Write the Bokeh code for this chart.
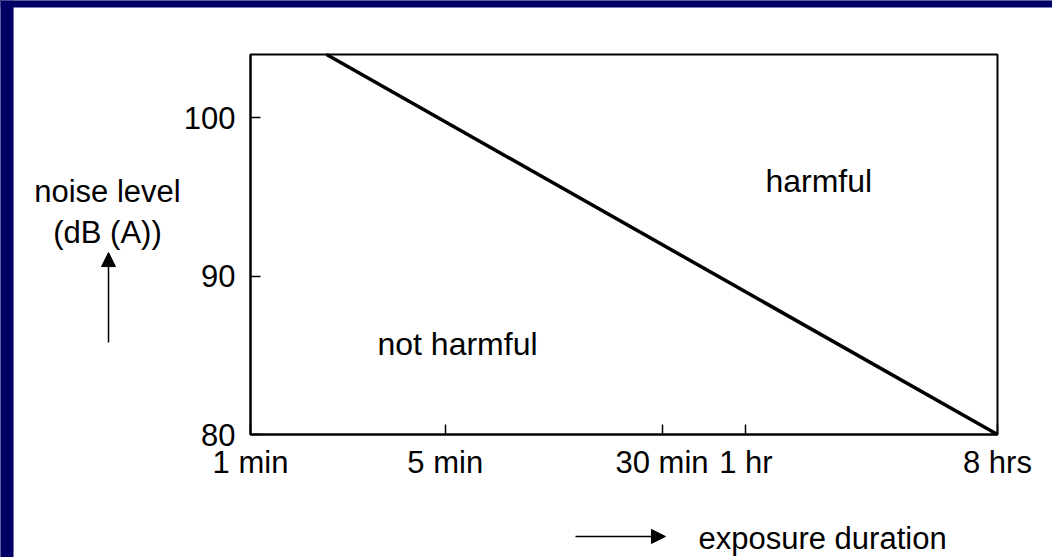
from bokeh.plotting import figure
from bokeh.models import (Range1d, FixedTicker, Label, Arrow, NormalHead,
                          BoxAnnotation, GlobalInlineStyleSheet)
from bokeh.embed import file_html
from bokeh.resources import INLINE

# ---- data ----
durations_min = [1.875, 480]          # exposure duration (minutes), line end points
noise_db = [104, 80]                  # noise level dB(A)
x_tick_values = [1, 5, 30, 60, 480]
x_tick_labels = ["1 min", "5 min", "30 min", "1 hr", "8 hrs"]
y_tick_values = [80, 90, 100]
region_labels = ["not harmful", "harmful"]
y_caption = ["noise level", "(dB (A))"]
x_caption = "exposure duration"

# chart box (data limits)
X_MIN, X_MAX = 1, 480
Y_MIN, Y_MAX = 80, 104

# visible canvas extent in data units (frame covers the whole canvas)
XR = (0.12667, 756.3)
YR = (72.232, 107.411)

FONT = "Liberation Sans"
FS = "31px"
NAVY = "#000066"

p = figure(width=1052, height=557, x_axis_type="log",
           x_range=Range1d(*XR), y_range=Range1d(*YR),
           output_backend="svg", toolbar_location=None,
           min_border_left=0, min_border_right=0,
           min_border_top=0, min_border_bottom=0,
           background_fill_color="white", border_fill_color="white")
p.stylesheets = [GlobalInlineStyleSheet(css=f"body {{ background-color: {NAVY}; }}")]
p.grid.visible = False
p.outline_line_color = None

# navy slide edges (left and top)
p.add_layout(BoxAnnotation(left=XR[0], right=0.1411, bottom=YR[0], top=YR[1],
                           fill_color=NAVY, fill_alpha=1, line_color=None))
p.add_layout(BoxAnnotation(left=XR[0], right=XR[1], bottom=106.969, top=YR[1],
                           fill_color=NAVY, fill_alpha=1, line_color=None))

# chart box
p.add_layout(BoxAnnotation(left=X_MIN, right=X_MAX, bottom=Y_MIN, top=Y_MAX,
                           fill_alpha=0, line_color="black", line_alpha=1,
                           line_width=2))

xa = p.xaxis[0]
xa.fixed_location = Y_MIN
xa.bounds = (X_MIN, X_MAX)
xa.ticker = FixedTicker(ticks=x_tick_values)
xa.major_label_overrides = {v: l for v, l in zip(x_tick_values, x_tick_labels)}

ya = p.yaxis[0]
ya.fixed_location = X_MIN
ya.bounds = (Y_MIN, Y_MAX)
ya.ticker = FixedTicker(ticks=y_tick_values)

for ax in (xa, ya):
    ax.axis_line_width = 2
    ax.axis_line_color = "black"
    ax.major_tick_in = 10
    ax.major_tick_out = 0
    ax.major_tick_line_width = 1.5
    ax.major_tick_line_color = "black"
    ax.minor_tick_line_color = None
    ax.major_label_text_font = FONT
    ax.major_label_text_font_size = FS
    ax.major_label_text_color = "black"
xa.major_label_standoff = 10
ya.major_label_standoff = 15

# the limit line
p.line(durations_min, noise_db, line_width=3.5, color="black")

def lab(x, y, text, align, size=FS):
    p.add_layout(Label(x=x, y=y, text=text, text_font=FONT, text_font_size=size,
                       text_color="black", text_align=align,
                       text_baseline="alphabetic"))

# region labels
lab(2.856, 85.69, region_labels[0], "left", "32px")
lab(70.5, 95.98, region_labels[1], "left", "32px")

# y caption with upward arrow
lab(0.3067, 95.32, y_caption[0], "center")
lab(0.3067, 92.76, y_caption[1], "center")
p.add_layout(Arrow(end=NormalHead(size=14, fill_color="black", line_color="black"),
                   x_start=0.3093, y_start=85.81, x_end=0.3093, y_end=91.49,
                   line_width=1.5, line_color="black"))

# x caption with rightward arrow
p.add_layout(Arrow(end=NormalHead(size=14, fill_color="black", line_color="black"),
                   x_start=14.67, y_start=73.56, x_end=30.87, y_end=73.56,
                   line_width=1.5, line_color="black"))
lab(40.55, 73.46, x_caption, "left")

open("out.html", "w").write(file_html(p, INLINE))
